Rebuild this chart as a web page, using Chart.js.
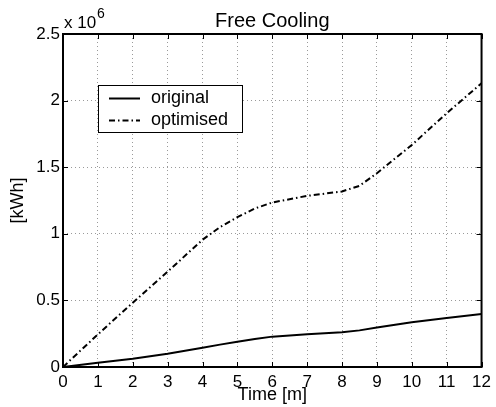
<!DOCTYPE html>
<html lang="en">
<head>
  <meta charset="UTF-8" />
  <title>Free Cooling</title>
  <style>
    html, body { margin: 0; padding: 0; background: #fff; }
  </style>
  <script src="https://cdn.jsdelivr.net/npm/chart.js"></script>
</head>
<body>
  <canvas id="coolingChart" width="496" height="407"></canvas>

  <script>
    // Zeit in Monaten, Energie in 10^6 kWh
    const timeMonths   = [0, 1, 2, 3, 4, 4.5, 5, 5.5, 6, 7, 8, 8.5, 9, 10, 11, 12];
    const originalKWh  = [0, 0.032, 0.062, 0.100, 0.145, 0.168, 0.190, 0.210, 0.228, 0.245, 0.260, 0.275, 0.296, 0.336, 0.368, 0.398];
    const optimisedKWh = [0, 0.245, 0.483, 0.716, 0.955, 1.050, 1.125, 1.190, 1.235, 1.285, 1.318, 1.360, 1.455, 1.667, 1.905, 2.130];
    const seriesNames  = ['original', 'optimised'];
    const xTickValues  = [0, 1, 2, 3, 4, 5, 6, 7, 8, 9, 10, 11, 12];
    const yTickValues  = [0, 0.5, 1, 1.5, 2, 2.5];

    const FONT = 'Liberation Sans, Arial, Helvetica, sans-serif';

    const toPoints = ys => timeMonths.map((t, i) => ({ x: t, y: ys[i] }));

    // Rahmen, innere Ticks, Titel, Exponent und Legende
    const matlabLook = {
      id: 'matlabLook',
      afterDraw(chart) {
        const { ctx, chartArea: a, scales: { x, y } } = chart;
        ctx.save();

        ctx.strokeStyle = '#000';
        ctx.lineWidth = 1;
        ctx.beginPath();
        xTickValues.forEach(v => {
          const px = Math.round(x.getPixelForValue(v)) + 0.5;
          ctx.moveTo(px, a.bottom); ctx.lineTo(px, a.bottom - 5);
          ctx.moveTo(px, a.top); ctx.lineTo(px, a.top + 5);
        });
        yTickValues.forEach(v => {
          const py = Math.round(y.getPixelForValue(v)) + 0.5;
          ctx.moveTo(a.left, py); ctx.lineTo(a.left + 5, py);
          ctx.moveTo(a.right, py); ctx.lineTo(a.right - 5, py);
        });
        ctx.stroke();

        ctx.lineWidth = 2;
        ctx.strokeRect(a.left, a.top, a.right - a.left, a.bottom - a.top);

        // Titel
        ctx.fillStyle = '#000';
        ctx.textAlign = 'center';
        ctx.textBaseline = 'alphabetic';
        ctx.font = '20px ' + FONT;
        ctx.fillText('Free Cooling', (a.left + a.right) / 2, 27);

        // Exponent
        ctx.textAlign = 'left';
        ctx.font = '17px ' + FONT;
        ctx.fillText('x 10', a.left + 1, 28);
        ctx.font = '14px ' + FONT;
        ctx.fillText('6', a.left + 34, 18);

        // Legende
        const bx = 98, by = 85, bw = 144, bh = 47;
        ctx.fillStyle = '#fff';
        ctx.fillRect(bx, by, bw, bh);
        ctx.lineWidth = 1;
        ctx.strokeStyle = '#000';
        ctx.strokeRect(bx + 0.5, by + 0.5, bw, bh);
        chart.data.datasets.forEach((ds, i) => {
          const ly = by + 13.5 + i * 22;
          ctx.lineWidth = ds.borderWidth;
          ctx.setLineDash(ds.borderDash || []);
          ctx.beginPath();
          ctx.moveTo(bx + 11, ly);
          ctx.lineTo(bx + 42, ly);
          ctx.stroke();
          ctx.setLineDash([]);
          ctx.fillStyle = '#000';
          ctx.font = '18px ' + FONT;
          ctx.textBaseline = 'middle';
          ctx.fillText(ds.label, bx + 53, ly);
        });

        ctx.restore();
      }
    };

    const ctx = document.getElementById('coolingChart').getContext('2d');
    new Chart(ctx, {
      type: 'line',
      data: {
        datasets: [
          {
            label: seriesNames[0],
            data: toPoints(originalKWh),
            borderColor: '#000',
            borderWidth: 2,
            pointRadius: 0,
            fill: false,
            tension: 0
          },
          {
            label: seriesNames[1],
            data: toPoints(optimisedKWh),
            borderColor: '#000',
            borderWidth: 2,
            borderDash: [6, 3, 1.5, 3],
            pointRadius: 0,
            fill: false,
            tension: 0
          }
        ]
      },
      options: {
        responsive: false,
        animation: false,
        devicePixelRatio: 1,
        layout: { padding: { top: 34, right: 13, left: 0, bottom: 0 } },
        plugins: {
          legend: { display: false },
          tooltip: { enabled: false }
        },
        scales: {
          x: {
            type: 'linear',
            min: 0,
            max: 12,
            afterBuildTicks: s => { s.ticks = xTickValues.map(v => ({ value: v })); },
            afterFit: s => { s.height = 40; },
            ticks: {
              color: '#000',
              font: { family: FONT, size: 17 },
              padding: 5,
              maxRotation: 0,
              callback: v => String(v)
            },
            grid: { color: '#9a9a9a', lineWidth: 1, drawTicks: false },
            border: { display: false, dash: [1, 3] },
            title: {
              display: true,
              text: 'Time [m]',
              color: '#000',
              font: { family: FONT, size: 18 },
              padding: { top: 0, bottom: 1 }
            }
          },
          y: {
            min: 0,
            max: 2.5,
            afterBuildTicks: s => { s.ticks = yTickValues.map(v => ({ value: v })); },
            afterFit: s => { s.width = 63; },
            ticks: {
              color: '#000',
              font: { family: FONT, size: 17 },
              padding: 3,
              callback: v => String(v)
            },
            grid: { color: '#9a9a9a', lineWidth: 1, drawTicks: false },
            border: { display: false, dash: [1, 3] },
            title: {
              display: true,
              text: '[kWh]',
              color: '#000',
              font: { family: FONT, size: 18 },
              padding: { top: 7, bottom: 0 }
            }
          }
        }
      },
      plugins: [matlabLook]
    });
  </script>
</body>
</html>
